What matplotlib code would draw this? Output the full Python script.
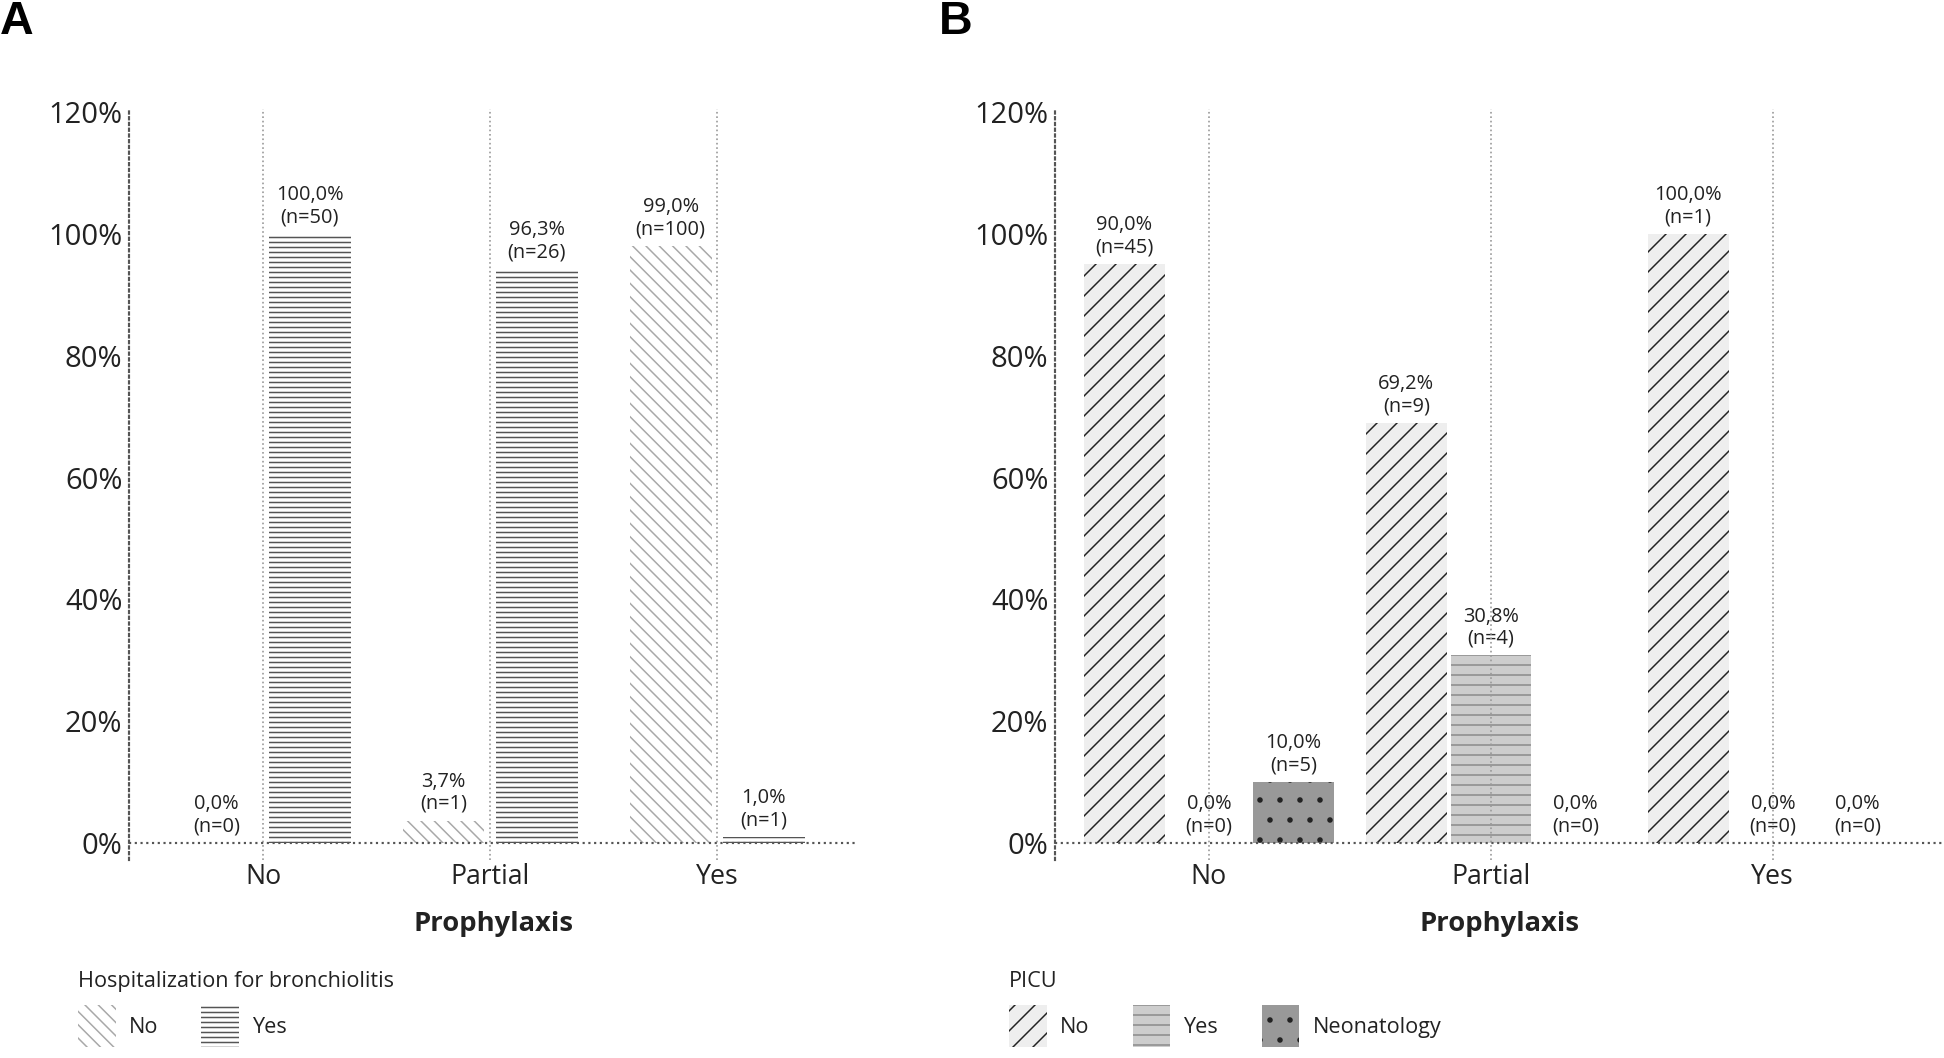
import numpy as np
import matplotlib
matplotlib.use("Agg")
import matplotlib.pyplot as plt
from matplotlib.patches import Patch

plt.rcParams['font.family'] = ['Open Sans', 'DejaVu Sans']
plt.rcParams['hatch.linewidth'] = 0.9

categories = ['No', 'Partial', 'Yes']

# panel A - hospitalization for bronchiolitis (bar heights as drawn, labels as printed)
hosp_no_height = [0.0, 3.7, 98.0]
hosp_no_pct = ['0,0%', '3,7%', '99,0%']
hosp_no_n = [0, 1, 100]
hosp_yes_height = [100.0, 94.2, 1.0]
hosp_yes_pct = ['100,0%', '96,3%', '1,0%']
hosp_yes_n = [50, 26, 1]

# panel B - PICU
picu_no_height = [95.0, 69.0, 100.0]
picu_no_pct = ['90,0%', '69,2%', '100,0%']
picu_no_n = [45, 9, 1]
picu_yes_height = [0.0, 30.8, 0.0]
picu_yes_pct = ['0,0%', '30,8%', '0,0%']
picu_yes_n = [0, 4, 0]
picu_neo_height = [10.0, 0.0, 0.0]
picu_neo_pct = ['10,0%', '0,0%', '0,0%']
picu_neo_n = [5, 0, 0]

txt = '#222222'

fig = plt.figure(figsize=(16.2, 1058 / 120), dpi=120)
axA = fig.add_axes([0.0664, 0.1876, 0.375, 0.7094])
axB = fig.add_axes([0.5428, 0.1876, 0.4572, 0.7094])

styleA = [
    dict(label='No', fc='white', hc='#a8a8a8', hatch='\\\\\\'),
    dict(label='Yes', fc='white', hc='#555555', hatch='----'),
]
styleB = [
    dict(label='No', fc='#eeeeee', hc='#222222', hatch='//'),
    dict(label='Yes', fc='#cdcdcd', hc='#8a8a8a', hatch='--'),
    dict(label='Neonatology', fc='#999999', hc='#222222', hatch='.'),
]


def draw(ax, series, styles, offsets, width, xlim):
    x0 = np.arange(len(categories))
    for (h, pct, n), st, off in zip(series, styles, offsets):
        bars = ax.bar(x0 + off, h, width, facecolor=st['fc'], edgecolor=st['hc'],
                      hatch=st['hatch'], linewidth=0, zorder=2)
        for b, p, k in zip(bars, pct, n):
            ax.annotate(f'{p}\n(n={k})', (b.get_x() + b.get_width() / 2, b.get_height()),
                        xytext=(0, 4), textcoords='offset points', ha='center', va='bottom',
                        fontsize=12, color=txt, linespacing=1.15)
    for i in x0:
        ax.axvline(i, ls=':', color='#9a9a9a', lw=1, zorder=3)
    ax.axhline(0, ls=':', color='#555555', lw=1.3, zorder=3)
    ax.set_xlim(*xlim)
    ax.set_ylim(-2.7, 120.5)
    ax.set_yticks(np.arange(0, 121, 20))
    ax.set_yticklabels([f'{v}%' for v in range(0, 121, 20)], fontsize=17.5, color=txt)
    ax.set_xticks(x0)
    ax.set_xticklabels(categories, fontsize=16, color=txt)
    ax.tick_params(length=0, pad=4)
    ax.tick_params(axis='x', pad=2)
    for s in ['top', 'right', 'bottom']:
        ax.spines[s].set_visible(False)
    ax.spines['left'].set_linestyle(':')
    ax.spines['left'].set_color('#555555')
    ax.spines['left'].set_linewidth(1.3)
    ax.set_xlabel('Prophylaxis', fontsize=16.4, fontweight='bold', color=txt, labelpad=12)


draw(axA,
     [(hosp_no_height, hosp_no_pct, hosp_no_n), (hosp_yes_height, hosp_yes_pct, hosp_yes_n)],
     styleA, [-0.205, 0.205], 0.36, (-0.59, 2.62))
draw(axB,
     [(picu_no_height, picu_no_pct, picu_no_n), (picu_yes_height, picu_yes_pct, picu_yes_n),
      (picu_neo_height, picu_neo_pct, picu_neo_n)],
     styleB, [-0.3, 0.0, 0.3], 0.286, (-0.545, 2.607))


def legend(title, styles, x):
    handles = [Patch(facecolor=s['fc'], edgecolor=s['hc'], hatch=s['hatch'], linewidth=0,
                     label=s['label']) for s in styles]
    lg = fig.legend(handles=handles, title=title, loc='upper left', bbox_to_anchor=(x, 0.082),
                    ncol=len(styles), frameon=False, fontsize=13, title_fontsize=13,
                    alignment='left', handlelength=1.75, handleheight=2.6,
                    handletextpad=0.6, columnspacing=2.0, labelspacing=0.6,
                    borderpad=0, borderaxespad=0)
    lg.get_title().set_color(txt)
    for t in lg.get_texts():
        t.set_color(txt)


legend('Hospitalization for bronchiolitis', styleA, 0.040)
legend('PICU', styleB, 0.519)

fig.text(0.0, 1.0, 'A', fontsize=28, fontweight='bold', family='Liberation Sans', va='top', ha='left')
fig.text(0.483, 1.0, 'B', fontsize=28, fontweight='bold', family='Liberation Sans', va='top', ha='left')

fig.savefig('out.png', dpi=120, facecolor='white')
